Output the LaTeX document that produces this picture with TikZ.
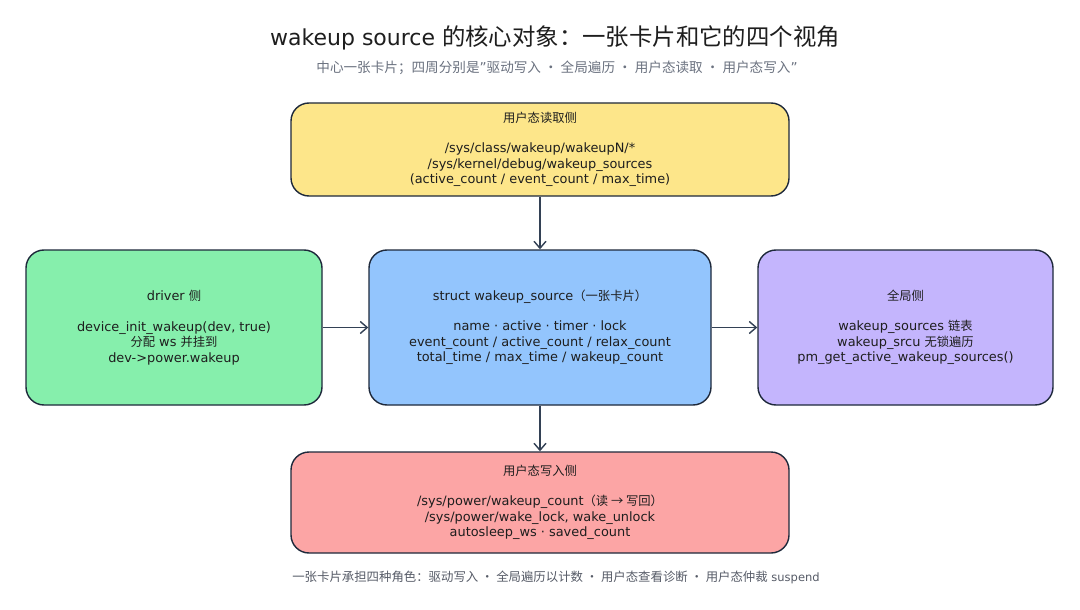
\documentclass[tikz,border=0pt]{standalone}
\usepackage{fontspec}
\setmainfont{DejaVu Sans}
\newfontfamily\cjk{Noto Sans CJK SC}
\newcommand\zh[1]{{\cjk #1}}
\newcommand\zb[1]{{\fontsize{12.3}{15.5}\selectfont\cjk #1}}
\usetikzlibrary{arrows.meta}
\definecolor{edge}{HTML}{1E293B}
\definecolor{arrc}{HTML}{334155}
\definecolor{cyellow}{HTML}{FDE68A}
\definecolor{cgreen}{HTML}{86EFAC}
\definecolor{cblue}{HTML}{93C5FD}
\definecolor{cpurple}{HTML}{C4B5FD}
\definecolor{cred}{HTML}{FCA5A5}
\definecolor{subgrey}{HTML}{6B7280}
\definecolor{ink}{HTML}{1E1E1E}
\tikzset{
  card/.style={draw=edge, line width=1.4pt, rounded corners=18pt, align=center,
    text=ink, font=\fontsize{12.9}{15.5}\selectfont, inner sep=0pt},
  arr/.style={draw=arrc, line width=1.4pt, -{Straight Barb[length=7pt,width=12pt,line width=1.4pt]}},
}
\begin{document}
\begin{tikzpicture}[x=1pt,y=-1pt]
\useasboundingbox[fill=white] (0,0) rectangle (1080,610);
\node[font=\fontsize{22}{26}\selectfont, text=ink] (title) at (555,38) {wakeup source {\fontsize{23.4}{26}\selectfont\cjk 的核心对象：一张卡片和它的四个视角}};
\node[font=\fontsize{13.6}{16}\selectfont, text=subgrey] (sub) at (557,68) {\zh{中心一张卡片；四周分别是}"\zh{驱动写入 · 全局遍历 · 用户态读取 · 用户态写入}"};
\node[card, fill=cyellow, minimum width=498pt, minimum height=93pt] (top) at (540,149.5)
  {\zb{用户态读取侧}\\[15pt] /sys/class/wakeup/wakeupN/*\\ /sys/kernel/debug/wakeup\_sources\\ (active\_count / event\_count / max\_time)};
\node[card, fill=cgreen, minimum width=296pt, minimum height=155pt] (left) at (174,327.5)
  {driver \zb{侧}\\[15pt] device\_init\_wakeup(dev, true)\\ \zb{分配} ws \zb{并挂到}\\ dev->power.wakeup};
\node[card, fill=cblue, minimum width=342pt, minimum height=155pt] (center) at (540,327.5)
  {struct wakeup\_source\zb{（一张卡片）}\\[15pt] name · active · timer · lock\\ event\_count / active\_count / relax\_count\\ total\_time / max\_time / wakeup\_count};
\node[card, fill=cpurple, minimum width=295pt, minimum height=155pt] (right) at (905.5,327.5)
  {\zb{全局侧}\\[15pt] wakeup\_sources \zb{链表}\\ wakeup\_srcu \zb{无锁遍历}\\ pm\_get\_active\_wakeup\_sources()};
\node[card, fill=cred, minimum width=498pt, minimum height=101pt] (bottom) at (540,502.5)
  {\zb{用户态写入侧}\\[15pt] /sys/power/wakeup\_count\zb{（读 → 写回）}\\ /sys/power/wake\_lock, wake\_unlock\\ autosleep\_ws · saved\_count};
\node[font=\fontsize{11.5}{14}\selectfont, text=subgrey!80!black] (foot) at (556,577) {{\fontsize{12.4}{14}\selectfont\cjk 一张卡片承担四种角色：驱动写入 · 全局遍历以计数 · 用户态查看诊断 · 用户态仲裁} suspend};
\draw[arr] (top) -- (center);
\draw[arr] (left) -- (center);
\draw[arr] (center) -- (right);
\draw[arr] (center) -- (bottom);
\end{tikzpicture}
\end{document}
